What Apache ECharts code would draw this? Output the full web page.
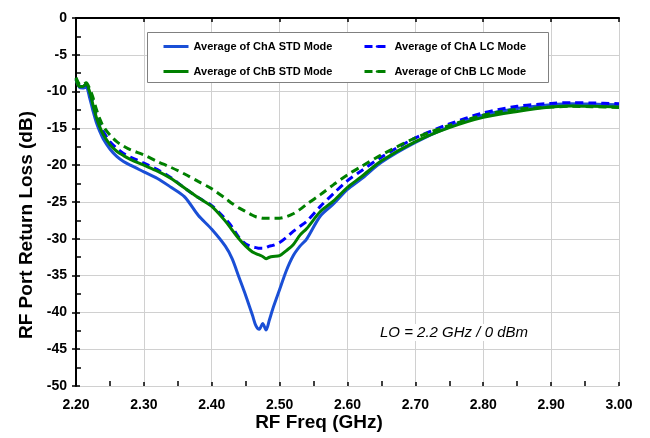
<!DOCTYPE html>
<html>
<head>
<meta charset="utf-8">
<script src="https://cdn.jsdelivr.net/npm/echarts@6/dist/echarts.min.js"></script>
<style>
  html, body { margin: 0; padding: 0; background: #fff; }
  #chart { width: 650px; height: 438px; }
</style>
</head>
<body>
<div id="chart"></div>
<script>
// frequency points (GHz)
var freq = [2.200, 2.205, 2.210, 2.215, 2.220, 2.225, 2.230, 2.235, 2.240, 2.250,
  2.260, 2.270, 2.280, 2.300, 2.320, 2.340, 2.360, 2.380, 2.400, 2.420,
  2.430, 2.440, 2.450, 2.460, 2.465, 2.470, 2.475, 2.480, 2.485, 2.490,
  2.500, 2.510, 2.520, 2.530, 2.540, 2.560, 2.580, 2.600, 2.620, 2.650,
  2.700, 2.750, 2.800, 2.850, 2.900, 2.930, 2.960, 3.000];

// return loss (dB)
var chaStd = [-8.4, -9.4, -9.5, -9.4, -10.8, -12.6, -14.2, -15.4, -16.4, -17.8,
  -18.8, -19.5, -20.0, -20.9, -21.8, -23.0, -24.3, -26.8, -28.7, -31.0,
  -32.7, -35.2, -37.7, -40.4, -41.8, -42.3, -41.5, -42.4, -41.0, -39.5,
  -36.9, -34.3, -32.3, -31.0, -30.0, -26.9, -25.2, -23.3, -21.9, -19.6,
  -16.9, -14.8, -13.2, -12.3, -11.8, -11.65, -11.7, -11.8];

var chaLc = [-8.2, -9.2, -9.3, -9.0, -10.0, -11.6, -13.2, -14.5, -15.4, -16.8,
  -17.7, -18.4, -18.9, -19.7, -20.6, -21.7, -23.1, -24.4, -25.5, -27.3,
  -28.4, -29.8, -30.7, -31.1, -31.2, -31.3, -31.3, -31.2, -31.0, -30.9,
  -30.5, -29.8, -29.0, -28.3, -27.6, -25.6, -23.8, -22.1, -20.8, -18.9,
  -16.3, -14.4, -12.9, -12.0, -11.6, -11.5, -11.55, -11.65];

var chbStd = [-8.3, -9.3, -9.3, -9.0, -10.0, -11.8, -13.5, -14.8, -15.8, -17.2,
  -18.1, -18.7, -19.2, -20.0, -20.8, -21.8, -23.1, -24.4, -25.6, -27.6,
  -28.8, -30.0, -31.0, -31.8, -32.0, -32.2, -32.4, -32.7, -32.5, -32.4,
  -32.3, -31.6, -30.8, -29.5, -28.6, -26.3, -24.8, -23.0, -21.6, -19.4,
  -16.8, -14.9, -13.5, -12.7, -12.1, -11.95, -12.0, -12.1];

var chbLc = [-8.1, -9.0, -9.1, -8.8, -9.6, -10.8, -12.4, -13.7, -14.7, -15.9,
  -16.8, -17.4, -17.9, -18.6, -19.5, -20.3, -21.2, -22.2, -23.2, -24.5,
  -25.2, -25.8, -26.3, -26.8, -27.0, -27.1, -27.2, -27.2, -27.2, -27.2,
  -27.2, -27.0, -26.6, -26.0, -25.3, -24.0, -22.6, -21.3, -20.2, -18.6,
  -16.3, -14.6, -13.2, -12.4, -12.1, -12.0, -12.05, -12.15];

var names = ['Average of ChA STD Mode', 'Average of ChA LC Mode',
  'Average of ChB STD Mode', 'Average of ChB LC Mode'];

function pairs (vals) {
  return freq.map(function (f, i) { return [f, vals[i]] })
}

var chart = echarts.init(document.getElementById('chart'))

var labelFont = { color: '#000', fontFamily: 'Arial, Liberation Sans', fontWeight: 'bold', fontSize: 14 }
var tickLine = { color: '#000', width: 1.5 }
var plotRect = { left: 76, right: 31, top: 18, bottom: 52 }

// inner ticks drawn by an overlaid empty grid
function innerAxis (min, max, interval) {
  return {
    type: 'value',
    gridIndex: 1,
    min: min,
    max: max,
    interval: interval,
    axisLine: { show: false, onZero: false },
    axisLabel: { show: false },
    splitLine: { show: false },
    axisTick: { show: true, inside: true, length: 4, lineStyle: tickLine },
    minorTick: { show: true, splitNumber: 2, length: 5, lineStyle: tickLine }
  }
}

var legendText = { color: '#000', fontFamily: 'Arial, Liberation Sans', fontWeight: 'bold', fontSize: 11 }

function legendCol (left, items) {
  return {
    z: 60,
    left: left,
    top: 41,
    padding: 0,
    orient: 'vertical',
    itemGap: 14,
    itemWidth: 25,
    itemHeight: 3,
    lineStyle: { width: 3 },
    data: items,
    textStyle: legendText
  }
}

var option = {
  animation: false,
  grid: [plotRect, plotRect],
  xAxis: [{
    type: 'value',
    min: 2.2,
    max: 3.0,
    interval: 0.1,
    axisLine: { lineStyle: { color: '#000', width: 2 } },
    axisTick: { show: true, length: 4, lineStyle: tickLine },
    axisLabel: Object.assign({ margin: 12, formatter: function (v) { return v.toFixed(2) } }, labelFont),
    splitLine: { show: true, lineStyle: { color: '#d0d0d0', width: 1 } }
  }, innerAxis(2.2, 3.0, 0.1)],
  yAxis: [{
    type: 'value',
    min: -50,
    max: 0,
    interval: 5,
    axisLine: { show: true, lineStyle: { color: '#000', width: 2 } },
    axisTick: { show: true, length: 4, lineStyle: tickLine },
    axisLabel: Object.assign({ margin: 9 }, labelFont),
    splitLine: { show: true, lineStyle: { color: '#d0d0d0', width: 1 } }
  }, innerAxis(-50, 0, 5)],
  graphic: [{
    type: 'rect',
    z: 50,
    shape: { x: 147.5, y: 32.5, width: 401, height: 50 },
    style: { fill: '#fff', stroke: '#808080', lineWidth: 1 }
  }, {
    type: 'text',
    z: 50,
    x: 319,
    y: 413,
    style: { text: 'RF Freq (GHz)', fill: '#000', font: 'bold 19px Arial, Liberation Sans', textAlign: 'center' }
  }, {
    type: 'text',
    z: 50,
    x: 17,
    y: 225,
    rotation: Math.PI / 2,
    style: {
      text: 'RF Port Return Loss (dB)',
      fill: '#000',
      font: 'bold 19px Arial, Liberation Sans',
      textAlign: 'center',
      textVerticalAlign: 'top'
    }
  }, {
    type: 'text',
    z: 50,
    x: 378,
    y: 324,
    style: {
      text: 'LO = 2.2 GHz / 0 dBm',
      fill: '#000',
      font: 'italic 15px Arial, Liberation Sans',
      backgroundColor: '#fff',
      padding: [1, 2]
    }
  }],
  legend: [
    legendCol(162, [names[0], names[2]]),
    legendCol(363, [names[1], names[3]])
  ],
  series: [{
    name: names[0],
    type: 'line',
    data: pairs(chaStd),
    symbol: 'none',
    smooth: 0.3,
    color: '#1a4fd6',
    lineStyle: { color: '#1a4fd6', width: 3 }
  }, {
    name: names[1],
    type: 'line',
    data: pairs(chaLc),
    symbol: 'none',
    smooth: 0.3,
    color: '#0000ff',
    lineStyle: { color: '#0000ff', width: 3, type: [8, 5] }
  }, {
    name: names[2],
    type: 'line',
    data: pairs(chbStd),
    symbol: 'none',
    smooth: 0.3,
    color: '#008000',
    lineStyle: { color: '#008000', width: 3 }
  }, {
    name: names[3],
    type: 'line',
    data: pairs(chbLc),
    symbol: 'none',
    smooth: 0.3,
    color: '#008000',
    lineStyle: { color: '#008000', width: 3, type: [8, 5] }
  }]
}

chart.setOption(option)
</script>
</body>
</html>
